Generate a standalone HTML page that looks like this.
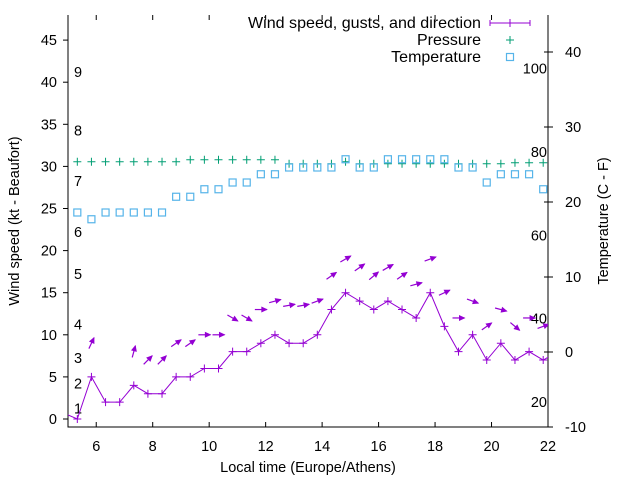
<!DOCTYPE html>
<html><head><meta charset="utf-8"><style>
html,body{margin:0;padding:0;background:#fff;}
svg{display:block;font-family:"Liberation Sans",sans-serif;}
</style></head><body>
<svg id="chart" width="640" height="480" viewBox="0 0 640 480">
<text x="308" y="472" font-size="14.5" text-anchor="middle">Local time (Europe/Athens)</text>
<text transform="translate(19,221) rotate(-90)" font-size="14.5" text-anchor="middle">Wind speed (kt - Beaufort)</text>
<text transform="translate(608,221) rotate(-90)" font-size="14.5" text-anchor="middle">Temperature (C - F)</text>
</svg>
<script>
const times=[5.33,5.83,6.33,6.83,7.33,7.83,8.33,8.83,9.33,9.83,10.33,10.83,11.33,11.83,12.33,12.83,13.33,13.83,14.33,14.83,15.33,15.83,16.33,16.83,17.33,17.83,18.33,18.83,19.33,19.83,20.33,20.83,21.33,21.83];
const speeds=[0,5,2,2,4,3,3,5,5,6,6,8,8,9,10,9,9,10,13,15,14,13,14,13,12,15,11,8,10,7,9,7,8,7];
const gusts=[null,9,null,null,8,7,7,9,9,10,10,12,12,13,14,13.5,13.5,14,17,19,18,17,18,17,16,19,15,12,14,11,13,11,12,11];
const bearings=[null,25,null,null,15,45,45,55,55,90,90,120,120,90,75,80,80,70,55,60,55,50,60,55,75,70,65,90,110,55,105,130,90,70];
const pressure=[1013,1013,1013,1013,1013,1013,1013,1013,1014,1014,1014,1014,1014,1014,1014,1012,1012,1012,1012,1013,1012,1012,1012,1012,1012,1012,1012,1012,1012,1012,1012,1012.5,1012.5,1012.5];
const temps=[18.6,17.7,18.6,18.6,18.6,18.6,18.6,20.7,20.7,21.7,21.7,22.6,22.6,23.7,23.7,24.6,24.6,24.6,24.6,25.7,24.6,24.6,25.7,25.7,25.7,25.7,25.7,24.6,24.6,22.6,23.7,23.7,23.7,21.7];
const xTicks=[6,8,10,12,14,16,18,20,22];
const yTicks=[0,5,10,15,20,25,30,35,40,45];
const y2Ticks=[-10,0,10,20,30,40];
const fTicks=[20,40,60,80,100];
const bftLabels=["1","2","3","4","5","6","7","8","9"];
const bftKnots=[1,4,7,11,17,22,28,34,41];

const L=68,R=548,T=15,B=427;
const X=t=>L+(t-5)*(R-L)/17;
const Y=v=>419-v*8.42;
const Y2=c=>352-c*7.5;
const YP=p=>161.7-(p-1013)*2;
const svg=document.getElementById('chart');
const NS='http://www.w3.org/2000/svg';
function mk(tag,attrs,parent){const e=document.createElementNS(NS,tag);for(const k in attrs)e.setAttribute(k,attrs[k]);(parent||svg).appendChild(e);return e;}

const border=mk('path',{d:`M${L},${T}V${B}H${R}V${T}`,fill:'none',stroke:'#000','stroke-width':1});



xTicks.forEach(t=>{
  const x=X(t);
  const tk=mk('path',{d:`M${x},${B}v-5M${x},${T}v5`,stroke:'#000'});
  
  
  const lb=mk('text',{x:x,y:451,'font-size':14.5,'text-anchor':'middle'});lb.textContent=t;
  
  
});
yTicks.forEach(v=>{
  const y=Y(v);
  const tk=mk('path',{d:`M${L},${y}h-5`,stroke:'#000'});
  
  
  const lb=mk('text',{x:57,y:y+5,'font-size':14.5,'text-anchor':'end'});lb.textContent=v;
  
  
});
y2Ticks.forEach(c=>{
  const y=Y2(c);
  const tk=mk('path',{d:`M${R-4},${y}h9`,stroke:'#000'});
  
  
  const lb=mk('text',{x:565,y:y+5,'font-size':14.5});lb.textContent=c;
  
  
});
fTicks.forEach(f=>{
  const y=Y2((f-32)*5/9);
  const lb=mk('text',{x:547,y:y+5,'font-size':14.5,'text-anchor':'end'});lb.textContent=f;
  
  
});
bftLabels.forEach((s,i)=>{
  const lb=mk('text',{x:74,y:Y(bftKnots[i])+3,'font-size':14.5});lb.textContent=s;
  
  
});

const defs=mk('defs',{});
const cp=mk('clipPath',{id:'clip'},defs);mk('rect',{x:L,y:T,width:R-L,height:B-T},cp);
const g=mk('g',{'clip-path':'url(#clip)'});



pressure.forEach((p,i)=>{
  const x=X(times[i]),y=YP(p);
  const m=mk('path',{d:`M${x-4},${y}h8M${x},${y-4}v8`,stroke:'#009e73','stroke-width':1},g);
  
  
});
temps.forEach((c,i)=>{
  const x=X(times[i]),y=Y2(c);
  const m=mk('rect',{x:x-3.5,y:y-3.5,width:7,height:7,fill:'none',stroke:'#56b4e9','stroke-width':1.2},g);
  
  
});
let d='';speeds.forEach((v,i)=>{d+=(i?'L':'M')+X(times[i])+','+Y(v);});
const ln=mk('path',{d:`M${L-10},${Y(1)}L`+d.slice(1)+`L${R+10},${Y(8)}`,fill:'none',stroke:'#9400d3','stroke-width':1},g);


speeds.forEach((v,i)=>{
  const x=X(times[i]),y=Y(v);
  const m=mk('path',{d:`M${x-4},${y}h8M${x},${y-4}v8`,stroke:'#9400d3'},g);
  
  
});
gusts.forEach((gv,i)=>{
  if(gv===null)return;
  const x=X(times[i]),y=Y(gv);
  const a=(90-bearings[i])*Math.PI/180;
  const dx=Math.cos(a)*6,dy=-Math.sin(a)*6;
  const x1=x-dx,y1=y-dy,x2=x+dx,y2=y+dy;
  const ar=mk('g',{},g);
  
  
  mk('line',{x1:x1,y1:y1,x2:x2,y2:y2,stroke:'#9400d3','stroke-width':1.2},ar);
  const ux=Math.cos(a),uy=-Math.sin(a),px=-uy,py=ux;
  const bx=x2-ux*5.5,by=y2-uy*5.5;
  mk('polygon',{points:`${x2+ux},${y2+uy} ${bx+px*3},${by+py*3} ${bx-px*3},${by-py*3}`,fill:'#9400d3'},ar);
});

const leg=mk('g',{'font-size':16});


[['Wind speed, gusts, and direction',28,233],['Pressure',45,0],['Temperature',62,0]].forEach(([s,y,len],i)=>{
  const t=mk('text',{x:481,y:y,'text-anchor':'end'},leg);t.textContent=s;
  if(len){t.setAttribute('textLength',len);t.setAttribute('lengthAdjust','spacingAndGlyphs');}
  
  
  const cy=y-5;
  let m;
  if(i===0){m=mk('path',{d:`M490,${cy}h40M490,${cy-3}v6M530,${cy-3}v6M510,${cy-4}v8`,stroke:'#9400d3',fill:'none'},leg);}
  else if(i===1){m=mk('path',{d:`M506,${cy}h8M510,${cy-4}v8`,stroke:'#009e73'},leg);}
  else{m=mk('rect',{x:506.5,y:cy-3.5,width:7,height:7,fill:'none',stroke:'#56b4e9','stroke-width':1.2},leg);}
  
  
});
</script>
</body></html>
